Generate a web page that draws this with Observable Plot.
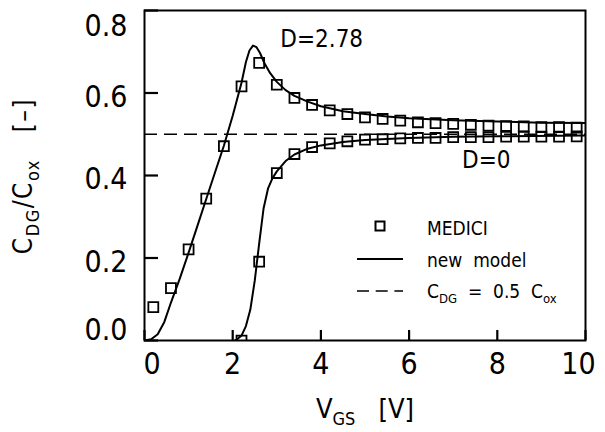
<!DOCTYPE html>
<html><head><meta charset="utf-8">
<script src="https://cdn.jsdelivr.net/npm/d3@7"></script>
<script src="https://cdn.jsdelivr.net/npm/@observablehq/plot@0.6"></script>
<style>
html,body{margin:0;padding:0;background:#fff;}
#chart{width:605px;height:432px;}
</style></head><body><div id="chart"></div>
<script>
const FONT = '"DejaVu Sans Condensed","DejaVu Sans",sans-serif';

// axes
const xDomain = [0, 10];
const yDomain = [0, 0.8];
const xTicks = [0, 2, 4, 6, 8, 10];
const yTicks = [0, 0.2, 0.4, 0.6, 0.8];
const refLevel = 0.5;

// MEDICI simulation points, D = 2.78
const mediciV_D278 = [0.2,0.6,1.0,1.4,1.8,2.2,2.6,3.0,3.4,3.8,4.2,4.6,5.0,5.4,5.8,6.2,6.6,7.0,7.4,7.8,8.2,8.6,9.0,9.4,9.8];
const mediciC_D278 = [0.081,0.127,0.221,0.344,0.471,0.616,0.673,0.620,0.588,0.571,0.558,0.549,0.541,0.537,0.533,0.529,0.527,0.525,0.523,0.521,0.520,0.519,0.517,0.517,0.516];

// MEDICI simulation points, D = 0
const mediciV_D0 = [2.2,2.6,3.0,3.4,3.8,4.2,4.6,5.0,5.4,5.8,6.2,6.6,7.0,7.4,7.8,8.2,8.6,9.0,9.4,9.8];
const mediciC_D0 = [0.0,0.191,0.406,0.452,0.469,0.478,0.483,0.487,0.488,0.490,0.491,0.491,0.493,0.493,0.493,0.494,0.494,0.494,0.494,0.495];

// new model, D = 2.78
const modelV_D278 = [0,0.15,0.3,0.45,0.6,0.8,1.0,1.2,1.4,1.6,1.8,2.0,2.1,2.2,2.3,2.38,2.46,2.54,2.62,2.72,2.85,3.0,3.2,3.4,3.7,4.0,4.5,5.0,5.5,6.0,7.0,8.0,9.0,10.0];
const modelC_D278 = [0,0.003,0.015,0.045,0.092,0.15,0.213,0.278,0.343,0.408,0.472,0.545,0.585,0.625,0.675,0.703,0.715,0.711,0.697,0.672,0.648,0.627,0.607,0.593,0.579,0.568,0.556,0.549,0.543,0.539,0.534,0.531,0.528,0.527];

// new model, D = 0
const modelV_D0 = [2.05,2.1,2.2,2.3,2.4,2.5,2.6,2.7,2.8,2.9,3.0,3.2,3.4,3.7,4.0,4.5,5.0,6.0,7.0,8.0,10.0];
const modelC_D0 = [0,0.003,0.012,0.035,0.075,0.145,0.235,0.32,0.368,0.393,0.41,0.435,0.451,0.465,0.473,0.481,0.486,0.491,0.494,0.495,0.497];

// curve labels
const labelText = ["D=2.78", "D=0"];
const labelV = [3.08, 7.2];
const labelC = [0.711, 0.419];

const zip = (V, C, s) => V.map((v, i) => ({v, c: C[i], s}));
const medici = [...zip(mediciV_D278, mediciC_D278, "D=2.78"), ...zip(mediciV_D0, mediciC_D0, "D=0")];
const model278 = zip(modelV_D278, modelC_D278, "D=2.78");
const model0 = zip(modelV_D0, modelC_D0, "D=0");
const labels = labelText.map((t, i) => ({t, v: labelV[i], c: labelC[i]}));

// layout
const W = 605, H = 432, mL = 144, mR = 20, mT = 10, mB = 92;
const frameW = W - mL - mR, frameH = H - mT - mB;
const xTickLen = 10, yTickLen = 14;

const chart = Plot.plot({
  width: W, height: H,
  marginLeft: mL, marginRight: mR, marginTop: mT, marginBottom: mB,
  style: {fontFamily: FONT, fontSize: "30px", color: "#000", background: "#fff"},
  x: {domain: xDomain},
  y: {domain: yDomain},
  marks: [
    Plot.ruleY([refLevel], {strokeDasharray: "13,7", strokeWidth: 1.6}),
    Plot.line(model278, {x: "v", y: "c", strokeWidth: 2, clip: true}),
    Plot.line(model0, {x: "v", y: "c", strokeWidth: 2, clip: true}),
    Plot.dot(medici, {x: "v", y: "c", symbol: "square", r: 5.6, stroke: "#000", fill: "none", strokeWidth: 1.8, clip: true}),
    Plot.frame({strokeWidth: 2}),
    // inward ticks
    Plot.tickX(xTicks, {x: d => d, insetTop: frameH - xTickLen, strokeWidth: 2.2}),
    Plot.tickY(yTicks, {y: d => d, insetRight: frameW - yTickLen, strokeWidth: 2.2}),
    // tick labels
    Plot.axisX({ticks: xTicks.slice(1, -1), tickSize: 0, tickPadding: 12, fontSize: 30, label: null}),
    Plot.axisX({ticks: [xTicks[0]], tickSize: 0, tickPadding: 12, fontSize: 30, dx: 7.5, label: null}),
    Plot.axisX({ticks: [xTicks[xTicks.length - 1]], tickSize: 0, tickPadding: 12, fontSize: 30, dx: -7, label: null}),
    Plot.axisY({ticks: yTicks.slice(1, -1), tickSize: 0, tickPadding: 17, fontSize: 30, dy: 4, tickFormat: ".1f", label: null}),
    Plot.axisY({ticks: [yTicks[0]], tickSize: 0, tickPadding: 17, fontSize: 30, dy: -10, tickFormat: ".1f", label: null}),
    Plot.axisY({ticks: [yTicks[yTicks.length - 1]], tickSize: 0, tickPadding: 17, fontSize: 30, dy: 16, tickFormat: ".1f", label: null}),
    Plot.text(labels, {x: "v", y: "c", text: "t", textAnchor: "start", lineAnchor: "bottom", fontSize: 24})
  ]
});
document.getElementById("chart").appendChild(chart);

// axis titles and legend (with subscripts)
const svg = d3.select(chart);
// x title
const xt = svg.append("text").attr("x", 365).attr("y", 418).attr("text-anchor", "middle")
  .attr("font-family", FONT).attr("font-size", 27).attr("fill", "#000").attr("xml:space", "preserve");
xt.append("tspan").text("V");
xt.append("tspan").attr("font-size", 18).attr("dy", 7).text("GS");
xt.append("tspan").attr("dy", -7).text("   [V]");

// y title
const yt = svg.append("text").attr("transform", "translate(32,176) rotate(-90)").attr("text-anchor", "middle")
  .attr("font-family", FONT).attr("font-size", 26).attr("fill", "#000").attr("xml:space", "preserve")
  .attr("letter-spacing", 1.5);
yt.append("tspan").text("C");
yt.append("tspan").attr("font-size", 18).attr("dy", 7).text("DG");
yt.append("tspan").attr("dy", -7).text("/C");
yt.append("tspan").attr("font-size", 18).attr("dy", 7).text("ox");
yt.append("tspan").attr("dy", -7).text("   [–]");

// legend
const lg = svg.append("g").attr("font-family", FONT).attr("font-size", 19).attr("fill", "#000").attr("text-anchor", "start");
const legendRows = ["MEDICI", "new  model"];
lg.append("rect").attr("x", 375.5).attr("y", 221.5).attr("width", 9).attr("height", 9)
  .attr("fill", "none").attr("stroke", "#000").attr("stroke-width", 2);
lg.append("line").attr("x1", 357).attr("x2", 403).attr("y1", 259).attr("y2", 259).attr("stroke", "#000").attr("stroke-width", 2);
lg.append("line").attr("x1", 357).attr("x2", 403).attr("y1", 291).attr("y2", 291).attr("stroke", "#000").attr("stroke-width", 1.6).attr("stroke-dasharray", "12,6.7");
lg.append("text").attr("x", 427).attr("y", 235).text(legendRows[0]);
lg.append("text").attr("x", 427).attr("y", 267).attr("xml:space", "preserve").text(legendRows[1]);
const t3 = lg.append("text").attr("x", 427).attr("y", 298).attr("xml:space", "preserve");
t3.append("tspan").text("C");
t3.append("tspan").attr("font-size", 13).attr("dy", 5).text("DG");
t3.append("tspan").attr("dy", -5).text("  =  0.5  C");
t3.append("tspan").attr("font-size", 13).attr("dy", 5).text("ox");
</script>
</body></html>
